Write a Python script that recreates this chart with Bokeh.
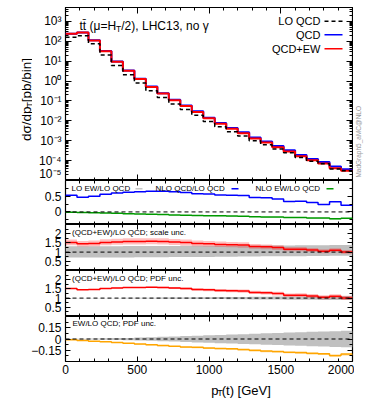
import math
from bokeh.plotting import figure
from bokeh.layouts import column, row
from bokeh.models import (Range1d, FixedTicker, LinearAxis, LogAxis, Label, Span,
                          CustomJSTickFormatter)
from bokeh.core.properties import value
from bokeh.embed import file_html
from bokeh.resources import INLINE

# ---------------- data ----------------
bin_edges = [0, 80, 160, 240, 320, 400, 480, 560, 640, 720, 800, 880, 960, 1040,
             1120, 1200, 1280, 1360, 1440, 1520, 1600, 1680, 1760, 1840, 1920, 2000]
lo_qcd = [158, 191, 75, 20.7, 6.05, 2.10, 0.80, 0.322, 0.149, 0.0705, 0.037, 0.019,
          0.0092, 0.0050, 0.00286, 0.00174, 0.00099, 6.3e-4, 3.8e-4, 2.5e-4, 1.43e-4,
          9.3e-5, 6.9e-5, 3.8e-5, 3.07e-5]
nlo_qcd_over_lo = [0.53, 0.47, 0.50, 0.56, 0.60, 0.63, 0.64, 0.66, 0.66, 0.64, 0.62, 0.58,
                   0.57, 0.54, 0.53, 0.52, 0.46, 0.45, 0.41, 0.33, 0.34, 0.30, 0.24, 0.32, 0.21]
nlo_ew_over_lo = [-0.01, -0.02, -0.03, -0.035, -0.045, -0.055, -0.065, -0.075, -0.085,
                  -0.095, -0.105, -0.11, -0.12, -0.125, -0.13, -0.14, -0.15, -0.16, -0.165,
                  -0.175, -0.18, -0.19, -0.195, -0.22, -0.20]
ew_unc = [0.002, 0.003, 0.004, 0.005, 0.006, 0.007, 0.008, 0.009, 0.010, 0.011, 0.012,
          0.012, 0.013, 0.013, 0.014, 0.014, 0.015, 0.015, 0.016, 0.016, 0.017, 0.017,
          0.018, 0.018, 0.019]
lo_scale_up = [1.32, 1.32, 1.32, 1.32, 1.32, 1.33, 1.33, 1.33, 1.33, 1.33, 1.34, 1.34, 1.34,
               1.34, 1.35, 1.35, 1.35, 1.36, 1.36, 1.36, 1.37, 1.37, 1.37, 1.38, 1.38]
lo_scale_dn = [0.70, 0.70, 0.70, 0.71, 0.71, 0.71, 0.72, 0.72, 0.72, 0.73, 0.73, 0.74, 0.74,
               0.75, 0.75, 0.76, 0.76, 0.77, 0.77, 0.78, 0.78, 0.79, 0.79, 0.80, 0.80]
nlo_scale_up_rel = [0.11, 0.11, 0.11, 0.11, 0.11, 0.11, 0.11, 0.11, 0.11, 0.11, 0.11, 0.11,
                    0.11, 0.11, 0.11, 0.11, 0.10, 0.10, 0.10, 0.10, 0.10, 0.10, 0.10, 0.10, 0.10]
nlo_scale_dn_rel = [0.10, 0.10, 0.10, 0.10, 0.10, 0.10, 0.10, 0.10, 0.10, 0.10, 0.10, 0.10,
                    0.10, 0.10, 0.10, 0.10, 0.10, 0.10, 0.10, 0.10, 0.10, 0.10, 0.10, 0.10, 0.10]
pdf_rel = [0.004, 0.005, 0.007, 0.009, 0.012, 0.015, 0.019, 0.024, 0.029, 0.034, 0.039,
           0.045, 0.05, 0.055, 0.06, 0.065, 0.07, 0.076, 0.081, 0.086, 0.091, 0.096, 0.1,
           0.105, 0.11]
x_major = [0, 500, 1000, 1500, 2000]
x_minor = [100, 200, 300, 400, 600, 700, 800, 900, 1100, 1200, 1300, 1400, 1600, 1700,
           1800, 1900]

# derived quantities
qcd = [l * (1 + a) for l, a in zip(lo_qcd, nlo_qcd_over_lo)]
qcdew = [l * (1 + a + b) for l, a, b in zip(lo_qcd, nlo_qcd_over_lo, nlo_ew_over_lo)]
ratio_qcdew = [1 + a + b for a, b in zip(nlo_qcd_over_lo, nlo_ew_over_lo)]


def ext(a):
    return list(a) + [a[-1]]


# ---------------- layout helpers ----------------
FONT = "Liberation Sans"
W_ADV = {'d': 556, 'σ': 617, '/': 278, 'p': 556, 'T': 611, ' ': 278, '[': 278, ']': 278,
         'b': 556, 'i': 222, 'n': 556, '(': 333, ')': 333, 't': 278, 'G': 778, 'e': 556,
         'V': 667, 'μ': 576, '=': 584, 'H': 722, '2': 556, ',': 278, 'L': 556, 'C': 722,
         '1': 556, '3': 556, 'o': 556, 'γ': 500, '\u0304': 0}


def tw(s, size):
    return sum(W_ADV.get(c, 556) for c in s) * size / 1000.0


FR_L, FR_R = 65.0, 352.0
YLAB_W = 32
P1_LEFT = FR_L - YLAB_W


def xd(px):
    return (px - FR_L) / (FR_R - FR_L) * 2000.0


MAIN = (7.0, 180.0, -5.0, 3.7)
P2 = (180.0, 224.0, -0.4, 1.0)
P3 = (224.0, 270.0, 0.0, 2.5)
P4 = (270.0, 316.0, 0.0, 2.5)
P5 = (316.0, 361.0, -0.3, 0.3)


def yd(geom, py, log=False):
    top, bot, lo, hi = geom
    v = lo + (bot - py) / (bot - top) * (hi - lo)
    return 10 ** v if log else v


xr = Range1d(0, 2000)


def make_fig(w, h, yr, left, right, log=False, top=0, bottom=0):
    p = figure(width=w, height=h, x_range=xr, y_range=yr,
               y_axis_type="log" if log else "linear",
               x_axis_location=None, y_axis_location=None,
               output_backend="svg", toolbar_location=None,
               min_border_left=left, min_border_right=right,
               min_border_top=top, min_border_bottom=bottom)
    p.grid.visible = False
    p.outline_line_color = "black"
    p.outline_line_width = 1.2
    p.background_fill_color = "white"
    p.border_fill_color = "white"
    return p


def text_fig(w, h):
    p = figure(width=w, height=h, x_range=Range1d(0, w), y_range=Range1d(0, h),
               x_axis_location=None, y_axis_location=None, output_backend="svg",
               toolbar_location=None, min_border=0)
    p.grid.visible = False
    p.outline_line_color = None
    p.background_fill_color = "white"
    p.border_fill_color = "white"
    return p


def style(ax, labels, maj, mnr, standoff=4):
    ax.major_tick_in = maj
    ax.major_tick_out = 0
    ax.minor_tick_in = mnr
    ax.minor_tick_out = 0
    ax.axis_line_color = None
    ax.major_tick_line_color = "black"
    ax.minor_tick_line_color = "black"
    if labels:
        ax.major_label_text_font = FONT
        ax.major_label_text_font_size = "12px"
        ax.major_label_text_color = "black"
        ax.major_label_standoff = standoff
    else:
        ax.formatter = CustomJSTickFormatter(code="return '';")
        ax.major_label_text_color = None
        ax.major_label_standoff = 0


def add_x_axes(p, labels_below=False, maj=5, mnr=3):
    for loc in ("below", "above"):
        ax = LinearAxis(ticker=FixedTicker(ticks=x_major, minor_ticks=x_minor))
        style(ax, labels_below and loc == "below", maj, mnr, standoff=3)
        p.add_layout(ax, loc)


ratio_code = """
if (Math.abs(tick) < 1e-9) { return "0"; }
const s = String(parseFloat(Math.abs(tick).toFixed(3)));
return (tick < 0 ? "\\u2212" : "") + s;
"""
log_code = """
const e = Math.round(Math.log10(tick));
const sup = {"-": "\\u207b", "0": "\\u2070", "1": "\\u00b9", "2": "\\u00b2", "3": "\\u00b3",
             "4": "\\u2074", "5": "\\u2075", "6": "\\u2076", "7": "\\u2077", "8": "\\u2078",
             "9": "\\u2079"};
return "10" + String(e).split("").map(c => sup[c]).join("");
"""


def add_y_axes(p, major, minor, log=False, maj=5, mnr=3):
    cls = LogAxis if log else LinearAxis
    left = cls(ticker=FixedTicker(ticks=major, minor_ticks=minor),
               formatter=CustomJSTickFormatter(code=log_code if log else ratio_code))
    style(left, True, maj, mnr)
    p.add_layout(left, "left")
    right = cls(ticker=FixedTicker(ticks=major, minor_ticks=minor))
    style(right, False, maj, mnr)
    p.add_layout(right, "right")


def lab(p, x, y, text, size, align="left", baseline="middle", angle=0.0, color="black"):
    p.add_layout(Label(x=x, y=y, text=text, text_font=FONT, text_font_size=f"{size}px",
                       text_align=align, text_baseline=baseline, angle=angle,
                       text_color=color))


def gtext(p, x, y, text, size, align="left", baseline="alphabetic", angle=0.0,
          color="black"):
    p.text(x=[x], y=[y], text=[text], text_font=value(FONT), text_font_size=f"{size}px",
           text_align=align, text_baseline=baseline, angle=angle, text_color=color)


def dashed_line(p, loc):
    p.add_layout(Span(location=loc, dimension="width", line_color="black",
                      line_width=1, line_dash="4 3"))


RATIO_W = int(FR_R) + 2

# ---------------- main panel ----------------
P1_W = int(P1_LEFT + (FR_R - FR_L) + 1)
p1 = make_fig(P1_W, 180, Range1d(1e-5, 10 ** 3.7), left=int(P1_LEFT), right=1, log=True,
              top=7)
add_x_axes(p1, maj=6, mnr=3)
main_major = [10.0 ** k for k in range(-5, 4)]
main_minor = [m * 10.0 ** k for k in range(-5, 4) for m in range(2, 10)]
add_y_axes(p1, main_major, main_minor, log=True, maj=6, mnr=3)

p1.step(bin_edges, ext(qcd), mode="after", line_color="blue", line_width=2)
p1.step(bin_edges, ext(qcdew), mode="after", line_color="red", line_width=2)
p1.step(bin_edges, ext(lo_qcd), mode="after", line_color="black", line_width=1.5,
        line_dash="4 3")

# title with subscript
tx, tb = 79.0, 25.0
s1 = "tt\u0304 (μ=H"
s3 = "/2), LHC13, no γ"
lab(p1, xd(tx), yd(MAIN, tb, True), s1, 12, baseline="alphabetic")
lab(p1, xd(tx + tw(s1, 12)), yd(MAIN, tb + 3, True), "T", 8.5, baseline="alphabetic")
lab(p1, xd(tx + tw(s1, 12) + tw("T", 8.5)), yd(MAIN, tb, True), s3, 12,
    baseline="alphabetic")

# legend (text left, sample right)
leg = [("LO QCD", "black", "4 3", 20.7), ("QCD", "blue", "solid", 34.3),
       ("QCD+EW", "red", "solid", 48.3)]
for name, col, dash, py in leg:
    lab(p1, xd(320), yd(MAIN, py, True), name, 11, align="right")
    p1.segment(x0=[xd(324)], x1=[xd(342)], y0=[yd(MAIN, py, True)],
               y1=[yd(MAIN, py, True)], line_color=col, line_width=1.5, line_dash=dash)

# y axis title (left strip)
ylab = text_fig(YLAB_W, 180)
yb, ys = 26.0, 139.0
a1 = "dσ/dp"
a3 = " [pb/bin]"
gtext(ylab, yb, 180 - ys, a1, 13.5, angle=math.pi / 2)
gtext(ylab, yb + 3, 180 - ys + tw(a1, 13.5), "T", 9.5, angle=math.pi / 2)
gtext(ylab, yb, 180 - ys + tw(a1, 13.5) + tw("T", 9.5), a3, 13.5, angle=math.pi / 2)

# generator tag (right strip)
TAG_W = 374 - (YLAB_W + P1_W)
tag = text_fig(TAG_W, 180)
gtext(tag, 357.5 - (YLAB_W + P1_W), 180 - 177.0, "MadGraph5_aMC@NLO", 6.5,
      baseline="middle", angle=math.pi / 2, color="#9a9a9a")

# ---------------- panel 2: corrections ----------------
p2 = make_fig(RATIO_W, 44, Range1d(-0.4, 1.0), left=int(FR_L), right=2)
add_x_axes(p2, maj=5, mnr=3)
add_y_axes(p2, [0.0, 0.5], [-0.25, 0.25, 0.75], maj=5, mnr=3)
p2.varea_step(x=bin_edges, y1=ext(nlo_ew_over_lo),
              y2=ext([e - u for e, u in zip(nlo_ew_over_lo, ew_unc)]),
              step_mode="after", fill_color="#8fd68f", fill_alpha=0.8)
dashed_line(p2, 0)
p2.step(bin_edges, ext(nlo_qcd_over_lo), mode="after", line_color="blue", line_width=1.5)
p2.step(bin_edges, ext(nlo_ew_over_lo), mode="after", line_color="#009900",
        line_width=1.5)
py2 = 188.3
for text, tx0, col, sx0, sx1 in [("LO EW/LO QCD", 71, "#c8c8c8", 135, 142),
                                  ("NLO QCD/LO QCD", 155, "blue", 231, 238),
                                  ("NLO EW/LO QCD", 255, "#009900", 326, 333)]:
    lab(p2, xd(tx0), yd(P2, py2), text, 8)
    p2.segment(x0=[xd(sx0)], x1=[xd(sx1)], y0=[yd(P2, py2)], y1=[yd(P2, py2)],
               line_color=col, line_width=1.5)

# ---------------- panel 3: scale uncertainty ----------------
p3 = make_fig(RATIO_W, 46, Range1d(0.0, 2.5), left=int(FR_L), right=2)
add_x_axes(p3, maj=5, mnr=3)
add_y_axes(p3, [0.5, 1.0, 1.5, 2.0], [0.25, 0.75, 1.25, 1.75, 2.25], maj=5, mnr=3)
p3.varea_step(x=bin_edges, y1=ext(lo_scale_dn), y2=ext(lo_scale_up), step_mode="after",
              fill_color="#c0c0c0", fill_alpha=1.0)
p3.varea_step(x=bin_edges, y1=ext([r * (1 - d) for r, d in zip(ratio_qcdew, nlo_scale_dn_rel)]),
              y2=ext([r * (1 + u) for r, u in zip(ratio_qcdew, nlo_scale_up_rel)]),
              step_mode="after", fill_color="red", fill_alpha=0.25)
dashed_line(p3, 1)
p3.step(bin_edges, ext(ratio_qcdew), mode="after", line_color="red", line_width=1.5)
lab(p3, xd(71.5), yd(P3, 231.7), "(QCD+EW)/LO QCD; scale unc.", 8)

# ---------------- panel 4: PDF uncertainty ----------------
p4 = make_fig(RATIO_W, 46, Range1d(0.0, 2.5), left=int(FR_L), right=2)
add_x_axes(p4, maj=5, mnr=3)
add_y_axes(p4, [0.5, 1.0, 1.5, 2.0], [0.25, 0.75, 1.25, 1.75, 2.25], maj=5, mnr=3)
p4.varea_step(x=bin_edges, y1=ext([1 - u for u in pdf_rel]), y2=ext([1 + u for u in pdf_rel]),
              step_mode="after", fill_color="#c0c0c0", fill_alpha=1.0)
p4.varea_step(x=bin_edges, y1=ext([r * (1 - u) for r, u in zip(ratio_qcdew, pdf_rel)]),
              y2=ext([r * (1 + u) for r, u in zip(ratio_qcdew, pdf_rel)]),
              step_mode="after", fill_color="red", fill_alpha=0.25)
dashed_line(p4, 1)
p4.step(bin_edges, ext(ratio_qcdew), mode="after", line_color="red", line_width=1.5)
lab(p4, xd(71.5), yd(P4, 278.3), "(QCD+EW)/LO QCD; PDF unc.", 8)

# ---------------- panel 5: EW / LO with PDF uncertainty ----------------
P5_BOTTOM = 18
p5 = make_fig(RATIO_W, 45 + P5_BOTTOM, Range1d(-0.3, 0.3), left=int(FR_L), right=2,
              bottom=P5_BOTTOM)
add_x_axes(p5, labels_below=True, maj=5, mnr=3)
add_y_axes(p5, [-0.15, 0.0, 0.15], [-0.225, -0.075, 0.075, 0.225], maj=5, mnr=3)
p5.varea_step(x=bin_edges, y1=ext([-u for u in pdf_rel]), y2=ext(pdf_rel),
              step_mode="after", fill_color="#c0c0c0", fill_alpha=1.0)
p5.varea_step(x=bin_edges, y1=ext(nlo_ew_over_lo),
              y2=ext([e - u for e, u in zip(nlo_ew_over_lo, ew_unc)]),
              step_mode="after", fill_color="#ffd27f", fill_alpha=0.9)
dashed_line(p5, 0)
p5.step(bin_edges, ext(nlo_ew_over_lo), mode="after", line_color="#ffa500", line_width=1.5)
lab(p5, xd(72), yd(P5, 323.3), "EW/LO QCD; PDF unc.", 8)

# x axis title (bottom strip)
XLAB_TOP = 361 + P5_BOTTOM
XLAB_H = 26
xlab = text_fig(374, XLAB_H)
xb_px, xb_py = 177.6, 389.5
b1 = "p"
b3 = "(t) [GeV]"
base_y = XLAB_H - (xb_py - XLAB_TOP)
gtext(xlab, xb_px, base_y, b1, 13)
gtext(xlab, xb_px + tw(b1, 13), base_y - 3, "T", 9)
gtext(xlab, xb_px + tw(b1, 13) + tw("T", 9), base_y, b3, 13)

layout = column(row(ylab, p1, tag, spacing=0), p2, p3, p4, p5, xlab, spacing=0)
open("out.html", "w").write(file_html(layout, INLINE))
